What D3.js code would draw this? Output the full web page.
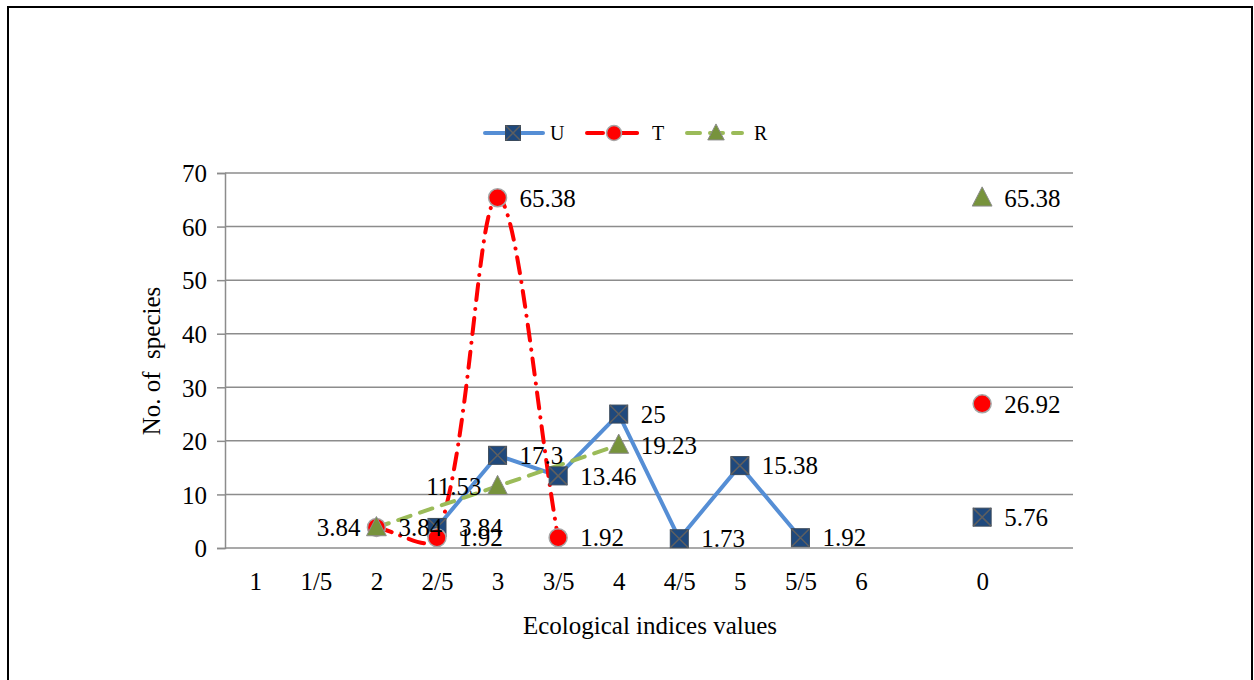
<!DOCTYPE html>
<html>
<head>
<meta charset="utf-8">
<script src="https://cdn.jsdelivr.net/npm/d3@7"></script>
<style>
  body { margin: 0; background: #fff; }
  text { font-family: "Liberation Serif", "Times New Roman", serif; fill: #000; }
</style>
</head>
<body>
<div id="chart"></div>
<script>
// categories on the x axis ("" = empty slots)
var categories = ['1', '1/5', '2', '2/5', '3', '3/5', '4', '4/5', '5', '5/5', '6', '', '0', ' '];
var yTicks = [0, 10, 20, 30, 40, 50, 60, 70];

// series values (null = no value)
var valuesU = [null, null, null, 3.84, 17.3, 13.46, 25, 1.73, 15.38, 1.92, null, null, 5.76, null];
var valuesT = [null, null, 3.84, 1.92, 65.38, 1.92, null, null, null, null, null, null, 26.92, null];
var valuesR = [null, null, 3.84, null, 11.53, null, 19.23, null, null, null, null, null, 65.38, null];

var seriesNames = ['U', 'T', 'R'];

var width = 1254, height = 680;
var margin = { top: 173, right: 181, bottom: 132, left: 225 };

var svg = d3.select('#chart').append('svg')
  .attr('width', width)
  .attr('height', height);

// outer frame
svg.append('rect')
  .attr('x', 8).attr('y', 7)
  .attr('width', 1244).attr('height', 700)
  .attr('fill', 'none')
  .attr('stroke', '#000')
  .attr('stroke-width', 2);

var x = d3.scalePoint()
  .domain(categories)
  .range([margin.left, width - margin.right])
  .padding(0.5);

var y = d3.scaleLinear()
  .domain([0, 70])
  .range([height - margin.bottom, margin.top]);

// gridlines
svg.append('g')
  .selectAll('line')
  .data(yTicks.slice(1))
  .enter()
  .append('line')
  .attr('x1', margin.left).attr('x2', width - margin.right)
  .attr('y1', function (d) { return y(d); })
  .attr('y2', function (d) { return y(d); })
  .attr('stroke', '#8c8c8c')
  .attr('stroke-width', 1.5);

// y axis
var yAxis = svg.append('g')
  .attr('transform', 'translate(' + margin.left + ',0)')
  .call(d3.axisLeft(y).tickValues(yTicks).tickSize(8).tickPadding(10).tickFormat(d3.format('d')));
yAxis.select('.domain').attr('stroke', '#8c8c8c').attr('stroke-width', 1.5);
yAxis.selectAll('.tick line').attr('stroke', '#8c8c8c').attr('stroke-width', 1.5);
yAxis.selectAll('text').style('font-size', '25px').attr('dy', '0.35em');

// x axis
var xAxis = svg.append('g')
  .attr('transform', 'translate(0,' + y(0) + ')')
  .call(d3.axisBottom(x).tickSize(0).tickPadding(24));
xAxis.select('.domain').attr('stroke', '#8c8c8c').attr('stroke-width', 1.5)
  .attr('d', 'M' + margin.left + ',0H' + (width - margin.right));
xAxis.selectAll('text').style('font-size', '25px');

// axis titles
svg.append('text')
  .attr('x', 650).attr('y', 634)
  .attr('text-anchor', 'middle')
  .style('font-size', '25px')
  .text('Ecological indices values');

svg.append('text')
  .attr('transform', 'translate(160,' + 361 + ') rotate(-90)')
  .attr('text-anchor', 'middle')
  .style('font-size', '25px')
  .style('white-space', 'pre')
  .text('No. of  species');

// series styles
var styles = {
  U: { color: '#558ed5', width: 4, dash: null, cap: 'round', marker: 'square', fill: '#1f497d', smooth: false },
  T: { color: '#ff0000', width: 4, dash: '16 9 0.1 9', cap: 'round', marker: 'circle', fill: '#ff0000', smooth: true },
  R: { color: '#9bbb59', width: 4, dash: '13 10', cap: 'round', marker: 'triangle', fill: '#77933c', smooth: false }
};
var seriesValues = { U: valuesU, T: valuesT, R: valuesR };

function rows(name) {
  return categories.map(function (c, i) {
    return { cat: c, value: seriesValues[name][i], name: name };
  }).filter(function (d) { return d.value !== null; });
}

// spreadsheet-style smoothing: tangents weighted by neighbouring segment lengths
function smoothPath(p) {
  var path = d3.path();
  path.moveTo(p[0][0], p[0][1]);
  function dist(a, b) { return Math.hypot(b[0] - a[0], b[1] - a[1]); }
  for (var i = 0; i < p.length - 1; i++) {
    var a = p[i], b = p[i + 1], c1, c2;
    if (i === 0) {
      c1 = [a[0] + (b[0] - a[0]) / 3, a[1] + (b[1] - a[1]) / 3];
    } else {
      var prev = p[i - 1], d0 = dist(prev, a), d1 = dist(a, b), f = d1 / (3 * (d0 + d1));
      c1 = [a[0] + (b[0] - prev[0]) * f, a[1] + (b[1] - prev[1]) * f];
    }
    if (i === p.length - 2) {
      c2 = [b[0] - (b[0] - a[0]) / 3, b[1] - (b[1] - a[1]) / 3];
    } else {
      var next = p[i + 2], e0 = dist(a, b), e1 = dist(b, next), g = e0 / (3 * (e0 + e1));
      c2 = [b[0] - (next[0] - a[0]) * g, b[1] - (next[1] - a[1]) * g];
    }
    path.bezierCurveTo(c1[0], c1[1], c2[0], c2[1], b[0], b[1]);
  }
  return path.toString();
}

function drawMarker(g, type, fill, size) {
  if (type === 'square') {
    var h = size / 2;
    g.append('rect')
      .attr('x', -h).attr('y', -h).attr('width', size).attr('height', size)
      .attr('fill', fill).attr('stroke', '#3a4a5c').attr('stroke-width', 1);
    g.append('path')
      .attr('d', 'M' + (-h) + ',' + (-h) + 'L' + h + ',' + h + 'M' + h + ',' + (-h) + 'L' + (-h) + ',' + h)
      .attr('stroke', '#5f5f5f').attr('stroke-width', 1.5);
  } else if (type === 'circle') {
    g.append('circle')
      .attr('r', size / 2)
      .attr('fill', fill).attr('stroke', '#a6a6a6').attr('stroke-width', 1.5);
  } else {
    var s = size * 1.1;
    g.append('path')
      .attr('d', 'M0,' + (-s * 0.55) + 'L' + (s / 2) + ',' + (s * 0.42) + 'L' + (-s / 2) + ',' + (s * 0.42) + 'Z')
      .attr('fill', fill).attr('stroke', '#8c8c8c').attr('stroke-width', 1);
  }
}

// lines (the "0" category stands apart and is not joined)
var lineGroup = svg.append('g');
seriesNames.forEach(function (name) {
  var st = styles[name];
  var pts = rows(name).filter(function (d) { return d.cat !== '0'; })
    .map(function (d) { return [x(d.cat), y(d.value)]; });
  var d = st.smooth ? smoothPath(pts) : d3.line()(pts);
  lineGroup.append('path')
    .attr('d', d)
    .attr('fill', 'none')
    .attr('stroke', st.color)
    .attr('stroke-width', st.width)
    .attr('stroke-linecap', st.cap)
    .attr('stroke-dasharray', st.dash);
});

// markers
seriesNames.forEach(function (name) {
  var st = styles[name];
  rows(name).forEach(function (d) {
    var g = svg.append('g').attr('transform', 'translate(' + x(d.cat) + ',' + y(d.value) + ')');
    drawMarker(g, st.marker, st.fill, 18);
  });
});

// data labels; a few sit left of their point
var leftLabels = ['R|2', 'R|3'];
seriesNames.forEach(function (name) {
  rows(name).forEach(function (d) {
    var left = leftLabels.indexOf(name + '|' + d.cat) >= 0;
    svg.append('text')
      .attr('x', x(d.cat) + (left ? -16 : 22))
      .attr('y', y(d.value))
      .attr('dy', '0.35em')
      .attr('text-anchor', left ? 'end' : 'start')
      .style('font-size', '25px')
      .text(d.value);
  });
});

// legend
var legend = svg.append('g').attr('transform', 'translate(0,133)');
var legendItems = [
  { name: 'U', x0: 485, x1: 543, mx: 513, tx: 550 },
  { name: 'T', x0: 587, x1: 646, mx: 614, tx: 652 },
  { name: 'R', x0: 687, x1: 742, mx: 716, tx: 754 }
];
legendItems.forEach(function (it) {
  var st = styles[it.name];
  legend.append('line')
    .attr('x1', it.x0).attr('x2', it.x1)
    .attr('stroke', st.color)
    .attr('stroke-width', st.width)
    .attr('stroke-linecap', st.cap)
    .attr('stroke-dasharray', st.dash);
  var g = legend.append('g').attr('transform', 'translate(' + it.mx + ',0)');
  drawMarker(g, st.marker, st.fill, 15);
  legend.append('text')
    .attr('x', it.tx).attr('dy', '0.35em')
    .style('font-size', '20px')
    .text(it.name);
});
</script>
</body>
</html>
